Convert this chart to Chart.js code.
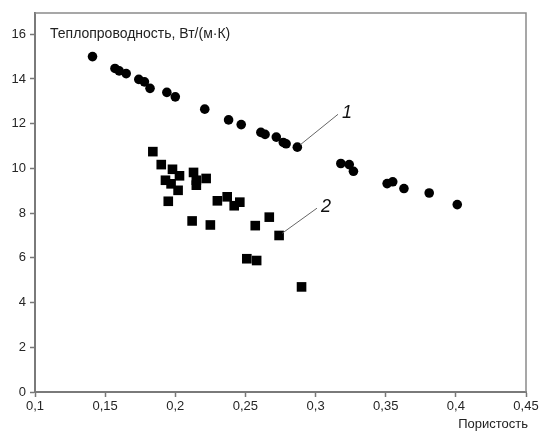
<!DOCTYPE html>
<html>
<head>
<meta charset="utf-8">
<script src="https://cdn.jsdelivr.net/npm/chart.js@4.4.1/dist/chart.umd.min.js"></script>
<style>
  html, body { margin: 0; padding: 0; background: #fff; }
</style>
</head>
<body>
<canvas id="chart" width="542" height="432"></canvas>
<script>
// series 1 (circles)
const porosity1 = [0.141, 0.157, 0.160, 0.165, 0.174, 0.178, 0.182, 0.194, 0.200, 0.221,
  0.238, 0.247, 0.261, 0.264, 0.272, 0.277, 0.279, 0.287, 0.318, 0.324, 0.327, 0.351,
  0.355, 0.363, 0.381, 0.401];
const conductivity1 = [15.0, 14.47, 14.36, 14.24, 13.98, 13.87, 13.58, 13.40, 13.20, 12.65,
  12.17, 11.96, 11.61, 11.52, 11.40, 11.16, 11.10, 10.95, 10.22, 10.17, 9.87, 9.32,
  9.40, 9.10, 8.90, 8.38];

// series 2 (squares)
const porosity2 = [0.184, 0.190, 0.198, 0.203, 0.193, 0.197, 0.202, 0.213, 0.215, 0.215,
  0.222, 0.195, 0.212, 0.225, 0.230, 0.237, 0.242, 0.246, 0.257, 0.267, 0.274, 0.251,
  0.258, 0.290];
const conductivity2 = [10.75, 10.17, 9.96, 9.67, 9.47, 9.31, 9.02, 9.82, 9.47, 9.25,
  9.55, 8.53, 7.65, 7.47, 8.55, 8.73, 8.33, 8.49, 7.44, 7.82, 7.00, 5.96,
  5.88, 4.70];

const xTicks = [0.1, 0.15, 0.2, 0.25, 0.3, 0.35, 0.4, 0.45];
const yTicks = [0, 2, 4, 6, 8, 10, 12, 14, 16];
const xTitle = "Пористость";
const yTitle = "Теплопроводность, Вт/(м·К)";
const seriesNames = ["1", "2"];

// leader lines: from a point of the series to the label, in data units
const callouts = [
  { series: 0, index: 17, toX: 0.316, toY: 12.42 },
  { series: 1, index: 20, toX: 0.301, toY: 8.22 }
];

const toPoints = (xs, ys) => xs.map((x, i) => ({ x, y: ys[i] }));
const comma = (v) => String(v).replace(".", ",");

Chart.defaults.font.family = '"Liberation Sans", Arial, sans-serif';
Chart.defaults.font.size = 13;
Chart.defaults.color = "#262626";

const extras = {
  id: "extras",
  afterDraw(chart) {
    const { ctx, chartArea: a, scales: { x, y } } = chart;
    ctx.save();
    // top and right frame
    ctx.strokeStyle = "#8a8a8a";
    ctx.lineWidth = 1.5;
    ctx.beginPath();
    ctx.moveTo(a.left, a.top);
    ctx.lineTo(a.right, a.top);
    ctx.lineTo(a.right, a.bottom);
    ctx.stroke();

    // axis titles
    ctx.fillStyle = "#222";
    ctx.font = '14px "Liberation Sans", Arial, sans-serif';
    ctx.textBaseline = "middle";
    ctx.textAlign = "left";
    ctx.fillText(yTitle, a.left + 15, y.getPixelForValue(16));
    ctx.font = '13px "Liberation Sans", Arial, sans-serif';
    ctx.textAlign = "right";
    ctx.fillText(xTitle, a.right + 2, 424);

    // callouts
    callouts.forEach((c, k) => {
      const ds = chart.data.datasets[c.series].data[c.index];
      const x0 = x.getPixelForValue(ds.x), y0 = y.getPixelForValue(ds.y);
      const x1 = x.getPixelForValue(c.toX), y1 = y.getPixelForValue(c.toY);
      const len = Math.hypot(x1 - x0, y1 - y0);
      const off = 4;
      ctx.strokeStyle = "#666";
      ctx.lineWidth = 1;
      ctx.beginPath();
      ctx.moveTo(x0 + (x1 - x0) / len * off, y0 + (y1 - y0) / len * off);
      ctx.lineTo(x1, y1);
      ctx.stroke();
      ctx.fillStyle = "#111";
      ctx.font = 'italic 18px "Liberation Sans", Arial, sans-serif';
      ctx.textAlign = "left";
      ctx.textBaseline = "middle";
      ctx.fillText(seriesNames[k], x1 + 4, y1 - 1);
    });
    ctx.restore();
  }
};

new Chart(document.getElementById("chart"), {
  type: "scatter",
  data: {
    datasets: [
      {
        label: seriesNames[0],
        data: toPoints(porosity1, conductivity1),
        pointStyle: "circle",
        pointRadius: 4.8,
        backgroundColor: "#000",
        borderColor: "#000",
        borderWidth: 0
      },
      {
        label: seriesNames[1],
        data: toPoints(porosity2, conductivity2),
        pointStyle: "rect",
        pointRadius: 6.8,
        backgroundColor: "#000",
        borderColor: "#000",
        borderWidth: 0
      }
    ]
  },
  options: {
    responsive: false,
    animation: false,
    layout: { padding: { top: 13, right: 16, left: 0, bottom: 0 } },
    plugins: { legend: { display: false }, tooltip: { enabled: false } },
    scales: {
      x: {
        type: "linear",
        min: 0.1,
        max: 0.45,
        afterBuildTicks: (s) => { s.ticks = xTicks.map((v) => ({ value: v })); },
        afterFit: (s) => { s.height = 40; },
        ticks: { callback: (v) => comma(v), padding: 2, maxRotation: 0, autoSkip: false },
        grid: { drawOnChartArea: false, tickLength: 5, tickColor: "#777", tickWidth: 1.5 },
        border: { color: "#7a7a7a", width: 2 }
      },
      y: {
        min: 0,
        max: 16.95,
        afterBuildTicks: (s) => { s.ticks = yTicks.map((v) => ({ value: v })); },
        afterFit: (s) => { s.width = 35; },
        ticks: { callback: (v) => comma(v), padding: 4 },
        grid: { drawOnChartArea: false, tickLength: 5, tickColor: "#777", tickWidth: 1.5 },
        border: { color: "#7a7a7a", width: 2 }
      }
    }
  },
  plugins: [extras]
});
</script>
</body>
</html>
